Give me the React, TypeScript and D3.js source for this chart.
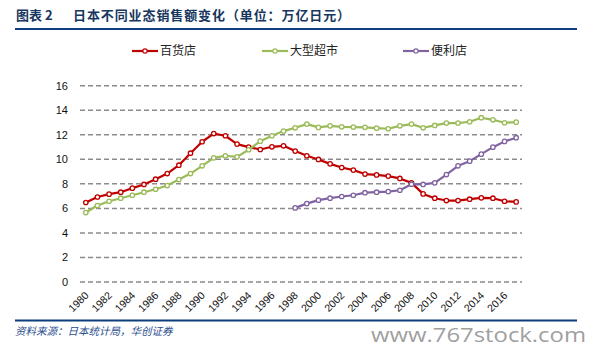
import React from "react";
import * as d3 from "d3";

const years: string[] = [
  "1980","1981","1982","1983","1984","1985","1986","1987","1988","1989",
  "1990","1991","1992","1993","1994","1995","1996","1997","1998","1999",
  "2000","2001","2002","2003","2004","2005","2006","2007","2008","2009",
  "2010","2011","2012","2013","2014","2015","2016","2017",
];
const xTickLabels: string[] = [
  "1980","1982","1984","1986","1988","1990","1992","1994","1996","1998",
  "2000","2002","2004","2006","2008","2010","2012","2014","2016",
];
const yTicks: number[] = [0, 2, 4, 6, 8, 10, 12, 14, 16];

const deptStore: (number | null)[] = [
  6.48, 6.93, 7.16, 7.32, 7.65, 7.95, 8.38, 8.84, 9.52, 10.5,
  11.43, 12.1, 11.92, 11.24, 10.99, 10.8, 11.02, 11.1, 10.67, 10.29,
  9.99, 9.63, 9.33, 9.12, 8.8, 8.73, 8.63, 8.44, 8.08, 7.18,
  6.83, 6.64, 6.64, 6.75, 6.86, 6.83, 6.58, 6.53,
];
const superMarket: (number | null)[] = [
  5.66, 6.23, 6.58, 6.83, 7.07, 7.32, 7.56, 7.86, 8.35, 8.84,
  9.47, 10.12, 10.29, 10.2, 10.78, 11.48, 11.92, 12.3, 12.57, 12.87,
  12.6, 12.73, 12.65, 12.63, 12.61, 12.54, 12.49, 12.73, 12.87, 12.57,
  12.76, 12.95, 12.95, 13.06, 13.39, 13.22, 12.98, 13.03,
];
const convenience: (number | null)[] = [
  null, null, null, null, null, null, null, null, null, null,
  null, null, null, null, null, null, null, null, 6.04, 6.39,
  6.67, 6.83, 6.97, 7.07, 7.28, 7.32, 7.37, 7.48, 7.97, 7.95,
  8.08, 8.76, 9.47, 9.85, 10.42, 10.99, 11.46, 11.76,
];

const seriesNames: string[] = ["百货店", "大型超市", "便利店"];
const seriesColors: string[] = ["#c00000", "#9bbb59", "#8064a2"];
const seriesData = [deptStore, superMarket, convenience];

const titleText = "日本不同业态销售额变化（单位：万亿日元）";
const sourceText = "资料来源：日本统计局，华创证券";
const watermark = "www.767stock.com";

export default function App() {
  const W = 593;
  const H = 356;
  const x = d3.scaleBand<string>().domain(years).range([80, 522]);
  const cx = (y: string) => (x(y) as number) + x.bandwidth() / 2;
  const y = d3.scaleLinear().domain([0, 16]).range([282, 85.7]);

  const line = d3
    .line<number | null>()
    .defined((d) => d !== null)
    .x((_, i) => cx(years[i]))
    .y((d) => y(d as number));

  const legendX = [132, 262, 403];
  const legendY = 51;

  return (
    <svg
      width={W}
      height={H}
      style={{ position: "fixed", left: 0, top: 0, background: "#fff" }}
      fontFamily="'Liberation Sans', Arial, sans-serif"
    >
      <rect x={0} y={0} width={W} height={H} fill="#fff" />
      {/* title */}
      <text
        x={16}
        y={20}
        fontSize={13}
        fontWeight="bold"
        fill="#17375e"
        fontFamily="'Noto Sans CJK SC', sans-serif"
      >
        图表 2
      </text>
      <text
        x={73}
        y={20}
        fontSize={13}
        fontWeight="bold"
        fill="#17375e"
        letterSpacing={0.9}
        fontFamily="'Noto Sans CJK SC', sans-serif"
      >
        {titleText}
      </text>
      <line x1={15} x2={577} y1={29} y2={29} stroke="#0d3d7a" strokeWidth={2} />

      {/* legend */}
      {seriesNames.map((n, i) => (
        <g key={n}>
          <line
            x1={legendX[i]}
            x2={legendX[i] + 26}
            y1={legendY}
            y2={legendY}
            stroke={seriesColors[i]}
            strokeWidth={2.2}
          />
          <circle
            cx={legendX[i] + 13}
            cy={legendY}
            r={2.2}
            fill="#fff"
            stroke={seriesColors[i]}
            strokeWidth={1.2}
          />
          <text
            x={legendX[i] + 28}
            y={legendY}
            dy="0.35em"
            fontSize={12}
            fill="#222"
            fontFamily="'Noto Sans CJK SC', sans-serif"
          >
            {n}
          </text>
        </g>
      ))}

      {/* grid + y labels */}
      {yTicks.map((t) => (
        <g key={t}>
          <line
            x1={80}
            x2={522}
            y1={y(t)}
            y2={y(t)}
            stroke="#8c8c8c"
            strokeWidth={1.5}
            strokeDasharray="5,3"
          />
          <text
            x={68}
            y={y(t)}
            dy="0.35em"
            textAnchor="end"
            fontSize={11}
            fill="#111"
          >
            {t}
          </text>
        </g>
      ))}

      {/* x labels */}
      {xTickLabels.map((l) => (
        <text
          key={l}
          transform={`translate(${cx(l) + 3.5},${296}) rotate(-45)`}
          textAnchor="end"
          fontSize={10.5}
          fill="#111"
        >
          {l}
        </text>
      ))}

      {/* series */}
      {seriesData.map((s, si) => (
        <g key={si}>
          <path
            d={line(s) || ""}
            fill="none"
            stroke={seriesColors[si]}
            strokeWidth={2.2}
            strokeLinejoin="round"
          />
          {s.map((v, i) =>
            v === null ? null : (
              <circle
                key={i}
                cx={cx(years[i])}
                cy={y(v)}
                r={2.2}
                fill="#fff"
                stroke={seriesColors[si]}
                strokeWidth={1.3}
              />
            )
          )}
        </g>
      ))}

      {/* footer */}
      <line x1={15} x2={577} y1={320.5} y2={320.5} stroke="#0d3d7a" strokeWidth={2} />
      <text
        x={15}
        y={335}
        fontSize={10.5}
        fontStyle="italic"
        fill="#2a4d8f"
        fontFamily="'Noto Sans CJK SC', sans-serif"
      >
        {sourceText}
      </text>
      <text
        x={371}
        y={342}
        fontSize={20}
        fill="#a0a0a0"
        fontFamily="'Open Sans', sans-serif"
        textLength={215}
        lengthAdjust="spacingAndGlyphs"
      >
        {watermark}
      </text>
    </svg>
  );
}
